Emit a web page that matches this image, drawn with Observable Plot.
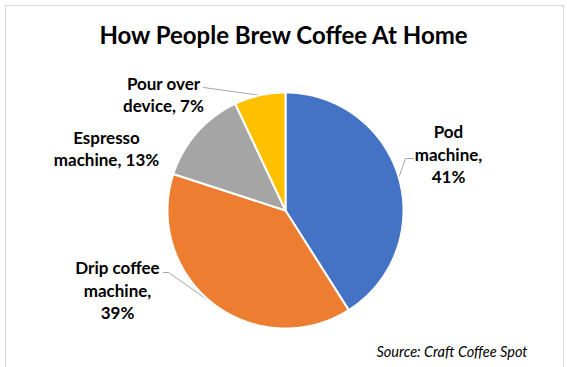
<!DOCTYPE html>
<html><head><meta charset="utf-8">
<script src="https://cdn.jsdelivr.net/npm/d3@7"></script>
<script src="https://cdn.jsdelivr.net/npm/@observablehq/plot@0.6"></script>
<style>
body{margin:0;background:#fff;}
#wrap{position:relative;width:567px;height:367px;overflow:hidden;font-family:Lato,"Open Sans",sans-serif;}
#frame{position:absolute;left:5px;top:5px;width:559px;height:370px;border:1px solid #d9d9d9;box-sizing:border-box;}
#title{position:relative;height:62px;box-sizing:border-box;padding-top:21px;line-height:28px;text-align:center;font-weight:700;font-size:24px;color:#000;}
#chart{position:relative;}
</style></head><body>
<div id="wrap"><div id="frame"></div><div id="title"></div><div id="chart"></div></div>
<script>
// ---- data ----
const title = "How People Brew Coffee At Home";
const source = "Source: Craft Coffee Spot";
const categories = ["Pod machine", "Drip coffee machine", "Espresso machine", "Pour over device"];
const shares = [41, 39, 13, 7];
const labelLines = [["Pod", "machine,"], ["Drip coffee", "machine,"], ["Espresso", "machine,"], ["Pour over", "device,"]];
const colors = ["#4472C4", "#ED7D31", "#A5A5A5", "#FFC000"];

// ---- layout (pixels relative to pie centre) ----
const R = 118;
const percentOnNewLine = [true, true, false, false];
const labelOffset = [[163, -57], [-168, 79], [-179, -62.5], [-122, -116.5]];
const leaderStart = [[[128, -52], [120, -52]], [[-122, 62], [-117, 62]], null, [[-82, -123]]];

document.getElementById("title").textContent = title;

const arcs = d3.pie().sort(null).value(d => d)(shares);
const pt = a => ({x: R * Math.sin(a), y: -R * Math.cos(a)});

const slicePts = [];
arcs.forEach((a, i) => {
  const cat = categories[i];
  slicePts.push({cat, x: 0, y: 0});
  const n = Math.max(2, Math.ceil((a.endAngle - a.startAngle) / 0.01));
  for (let k = 0; k <= n; k++) {
    const t = a.startAngle + (a.endAngle - a.startAngle) * k / n;
    slicePts.push({cat, ...pt(t)});
  }
  slicePts.push({cat, x: 0, y: 0});
});

const labels = arcs.map((a, i) => ({
  cat: categories[i],
  x: labelOffset[i][0],
  y: labelOffset[i][1],
  text: labelLines[i].join("\n") + (percentOnNewLine[i] ? "\n" : " ") + shares[i] + "%"
}));

const leaderPts = [];
arcs.forEach((a, i) => {
  if (!leaderStart[i]) return;
  leaderStart[i].forEach(([x, y]) => leaderPts.push({cat: categories[i], x, y}));
  leaderPts.push({cat: categories[i], ...pt((a.startAngle + a.endAngle) / 2)});
});

const chart = Plot.plot({
  width: 567,
  height: 305,
  margin: 0,
  style: {fontFamily: "Lato, 'Open Sans', sans-serif", background: "transparent", overflow: "visible"},
  x: {domain: [-285, 282], range: [0, 567], axis: null},
  y: {domain: [-148, 157], range: [0, 305], axis: null},
  color: {domain: categories, range: colors},
  marks: [
    Plot.line(leaderPts, {x: "x", y: "y", z: "cat", stroke: "#a6a6a6", strokeWidth: 1}),
    Plot.line(slicePts, {x: "x", y: "y", z: "cat", fill: "cat", stroke: "white", strokeWidth: 2, strokeLinejoin: "round"}),
    Plot.text(labels, {x: "x", y: "y", text: "text", fontSize: 17, fontWeight: "bold", lineHeight: 1.3, fill: "black", lineAnchor: "middle"}),
    Plot.text([source], {frameAnchor: "bottom-right", dx: -40, dy: -15, textAnchor: "end", lineAnchor: "middle", fontStyle: "italic", fontSize: 14.5, fill: "black"})
  ]
});
document.getElementById("chart").appendChild(chart);
</script>
</body></html>
